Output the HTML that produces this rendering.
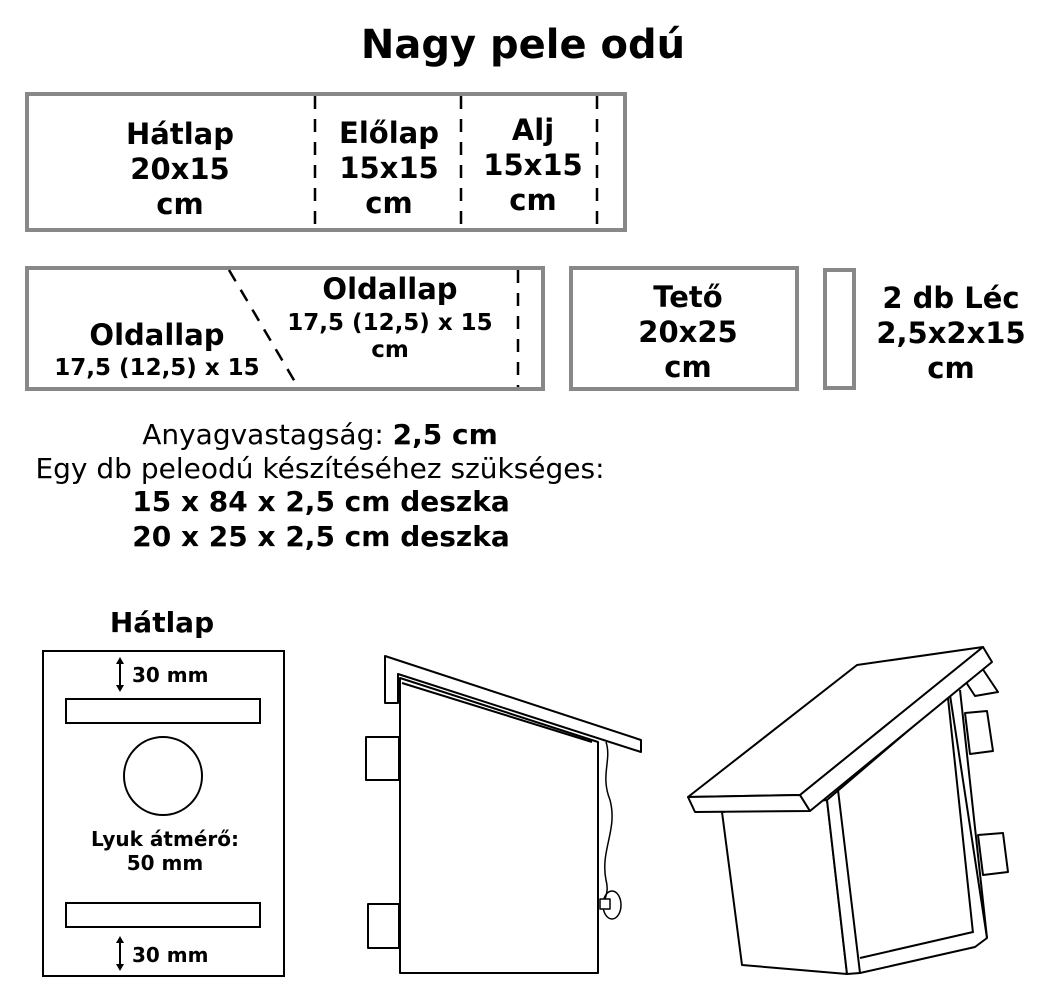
<!DOCTYPE html>
<html><head><meta charset="utf-8"><style>
body{margin:0;background:#fff}
svg{display:block}
text{font-family:"DejaVu Sans","Liberation Sans",sans-serif;font-weight:bold;fill:#000}
text.n{font-weight:normal}
</style></head><body>
<svg width="1050" height="1004" viewBox="0 0 1050 1004">
<text x="523" y="58" font-size="40" text-anchor="middle">Nagy pele odú</text>
<g fill="none" stroke="#888" stroke-width="4">
<rect x="27" y="94" width="598" height="136"/>
<rect x="27" y="268" width="516" height="121"/>
<rect x="571" y="268" width="226" height="121"/>
<rect x="825" y="270" width="29" height="118"/>
</g>
<g stroke="#000" stroke-width="2.5" stroke-dasharray="13,10" fill="none">
<line x1="315" y1="96" x2="315" y2="228"/>
<line x1="461" y1="96" x2="461" y2="228"/>
<line x1="597" y1="96" x2="597" y2="228"/>
<line x1="518" y1="270" x2="518" y2="387"/>
<line x1="229" y1="270" x2="298" y2="387"/>
</g>
<g font-size="29" text-anchor="middle">
<text x="180" y="144">Hátlap</text><text x="180" y="179">20x15</text><text x="180" y="214">cm</text>
<text x="389" y="143">Előlap</text><text x="389" y="178">15x15</text><text x="389" y="213">cm</text>
<text x="533" y="140">Alj</text><text x="533" y="175">15x15</text><text x="533" y="210">cm</text>
<text x="390" y="299">Oldallap</text>
<text x="157" y="345">Oldallap</text>
<text x="688" y="307">Tető</text><text x="688" y="342">20x25</text><text x="688" y="377">cm</text>
<text x="951" y="308">2 db Léc</text><text x="951" y="343">2,5x2x15</text><text x="951" y="378">cm</text>
</g>
<g font-size="23" text-anchor="middle">
<text x="390" y="330">17,5 (12,5) x 15</text><text x="390" y="357">cm</text>
<text x="157" y="375">17,5 (12,5) x 15</text>
</g>
<g font-size="28" text-anchor="middle">
<text class="n" x="320" y="444">Anyagvastagság: <tspan font-weight="bold">2,5 cm</tspan></text>
<text class="n" x="320" y="478">Egy db peleodú készítéséhez szükséges:</text>
<text x="321" y="511">15 x 84 x 2,5 cm deszka</text>
<text x="321" y="546">20 x 25 x 2,5 cm deszka</text>
<text x="162" y="632">Hátlap</text>
</g>
<g fill="none" stroke="#000" stroke-width="2">
<rect x="43" y="651" width="241" height="325"/>
<rect x="66" y="699" width="194" height="24"/>
<rect x="66" y="903" width="194" height="24"/>
<circle cx="163" cy="776" r="39"/>
<line x1="120" y1="660" x2="120" y2="689"/>
<line x1="120" y1="939" x2="120" y2="968"/>
</g>
<g fill="#000">
<polygon points="116,664 124,664 120,657"/><polygon points="116,685 124,685 120,692"/>
<polygon points="116,943 124,943 120,936"/><polygon points="116,964 124,964 120,971"/>
</g>
<g font-size="20">
<text x="132" y="682">30 mm</text>
<text x="132" y="962">30 mm</text>
<text x="165" y="846" text-anchor="middle">Lyuk átmérő:</text>
<text x="165" y="870" text-anchor="middle">50 mm</text>
</g>
<!-- left house -->
<g fill="#fff" stroke="#000" stroke-width="2" stroke-linejoin="round">
<rect x="366" y="737" width="33" height="43"/>
<rect x="368" y="904" width="31" height="44"/>
<polygon points="400,678 598,742 598,973 400,973"/>
<line x1="402" y1="683" x2="592" y2="742"/>
<polygon points="385,656 641,740 641,752 398,674 398,703 385,703"/>
<path d="M606,742 C612,760 600,775 610,800 C618,830 600,850 606,880 C610,895 602,900 604,908" fill="none" stroke-width="1.5"/>
<ellipse cx="612" cy="905" rx="9" ry="14" fill="none" stroke-width="1.5"/>
<rect x="600" y="899" width="10" height="10" stroke-width="1.5"/>
</g>
<!-- right house -->
<g fill="#fff" stroke="#000" stroke-width="2" stroke-linejoin="round">
<polygon points="960,673 982,668 998,692 975,696"/>
<polygon points="965,713 987,711 993,751 970,754"/>
<polygon points="978,835 1003,833 1008,872 983,875"/>
<polygon points="722,812 827,800 847,974 742,965"/>
<polygon points="827,800 950,695 987,938 975,947 860,973 847,974"/>
<line x1="838" y1="790" x2="860" y2="973"/>
<line x1="948" y1="698" x2="973" y2="933"/>
<line x1="960" y1="690" x2="987" y2="938"/>
<line x1="860" y1="958" x2="973" y2="932"/>
<polygon points="688,797 857,665 983,647 800,795"/>
<polygon points="688,797 800,795 810,811 695,812"/>
<polygon points="800,795 983,647 992,662 810,811"/>
</g>
</svg>
</body></html>
